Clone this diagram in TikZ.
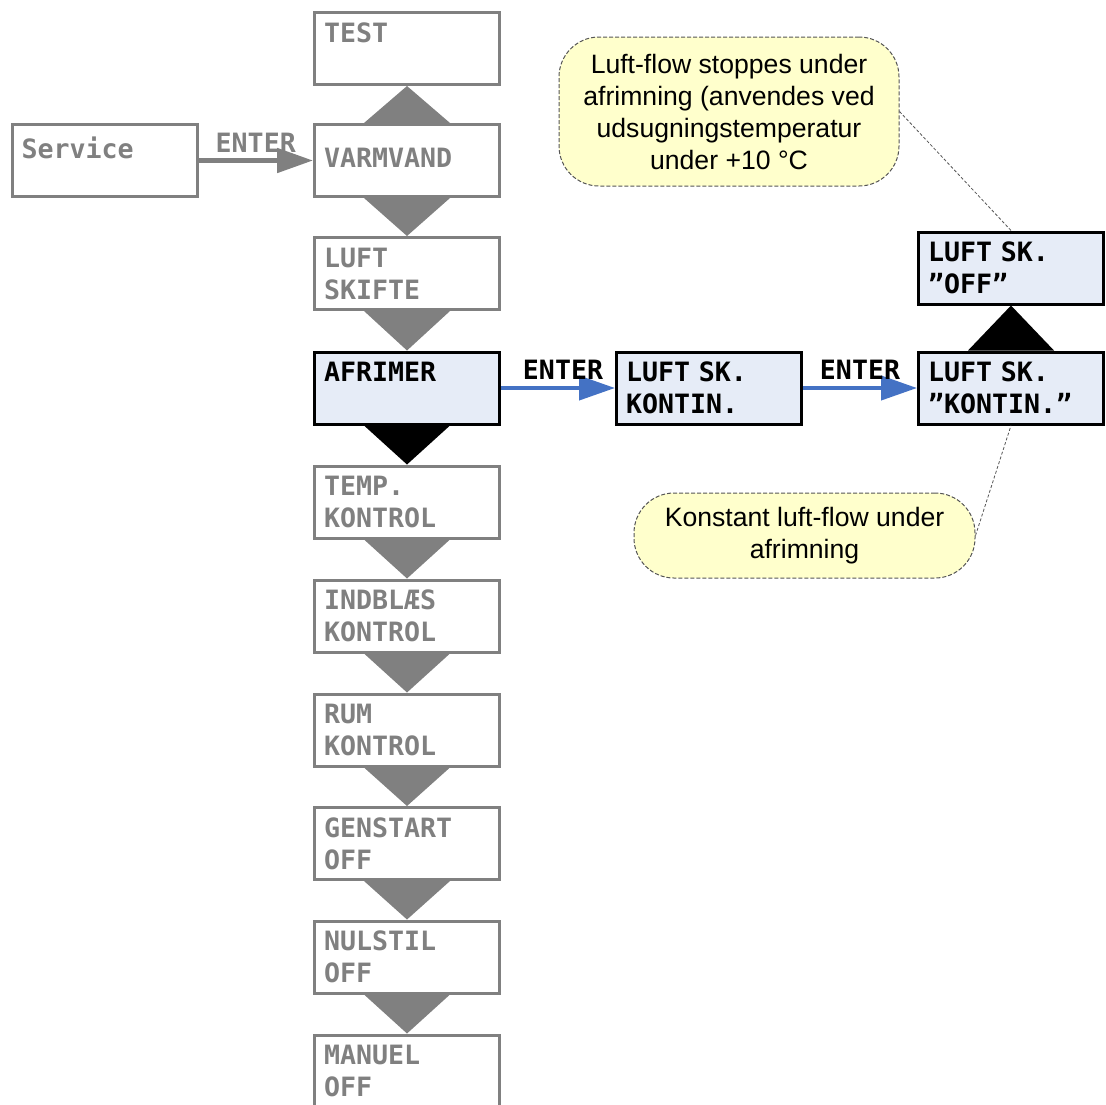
\documentclass[tikz,border=0pt]{standalone}
\usepackage{fontspec}
\setmainfont{Liberation Sans}
\newfontfamily\lcdfont{DejaVu Sans Mono}
\usetikzlibrary{arrows.meta,calc}

\definecolor{menugray}{RGB}{128,128,128}
\definecolor{selfill}{RGB}{230,236,247}
\definecolor{notefill}{RGB}{255,255,204}
\definecolor{notegray}{RGB}{85,85,85}
\definecolor{enterblue}{RGB}{68,114,196}

% lower a one-line display text without changing its reported size
\newcommand{\lowered}[2]{\raisebox{-#1}[\height][\depth]{#2}}

\begin{document}
\begin{tikzpicture}[x=0.5pt,y=-0.5pt,
  lcd/.style={font=\lcdfont\bfseries\fontsize{13.3}{16}\selectfont},
  menubox/.style={lcd, rectangle, draw=menugray, line width=1.5pt, text=menugray,
    minimum width=92.5pt, minimum height=36pt, inner sep=0pt, text width=83pt, align=left},
  activebox/.style={menubox, draw=black, text=black, fill=selfill},
  note/.style={draw=notegray, dash pattern=on 2pt off 1pt, line width=0.5pt, fill=notefill,
    rounded corners=20pt, font=\fontsize{13.3}{16}\selectfont, align=center, inner sep=0pt},
  leader/.style={draw=notegray, line width=0.4pt, dash pattern=on 1.5pt off 1pt},
  grayarrow/.style={draw=menugray, line width=2.5pt, -{Triangle[length=18pt,width=12pt]}},
  bluearrow/.style={draw=enterblue, line width=2pt, -{Triangle[length=18pt,width=12pt]}},
  enterlabel/.style={lcd, anchor=south, inner sep=0pt, yshift=4pt}
]
\useasboundingbox (0,0) rectangle (1106,1104);

% main menu column
\node[menubox] (test)  at (407,48.5)  {TEST\\\mbox{}};
\node[menubox] (varm)  at (407,160.5) {\lowered{6.5pt}{VARMVAND}\\\mbox{}};
\node[menubox] (luft)  at (407,273.5) {LUFT\\SKIFTE};
\node[activebox] (afr) at (407,388)   {AFRIMER\\\mbox{}};
\node[menubox] (temp)  at (407,502)   {TEMP.\\KONTROL};
\node[menubox] (indb)  at (407,616)   {INDBLÆS\\KONTROL};
\node[menubox] (rum)   at (407,730)   {RUM\\KONTROL};
\node[menubox] (gen)   at (407,843.5) {GENSTART\\OFF};
\node[menubox] (nul)   at (407,957)   {NULSTIL\\OFF};
\node[menubox] (man)   at (407,1071)  {MANUEL\\OFF};

% entry box
\node[menubox] (service) at (104.5,160.5) {\lowered{1.5pt}{Service}\\\mbox{}};

% defrost sub-menu
\node[activebox] (kont)  at (709,388)  {LUFT SK.\\KONTIN.};
\node[activebox] (kont2) at (1011,388) {LUFT SK.\\”KONTIN.”};
\node[activebox] (off)   at (1011,268) {LUFT SK.\\”OFF”};

% scroll triangles
\fill[menugray] ($(varm.north)+(-43,0)$) -- ($(varm.north)+(43,0)$) -- (test.south) -- cycle;
\foreach \a/\b in {varm/luft, luft/afr, temp/indb, indb/rum, rum/gen, gen/nul, nul/man}
  \fill[menugray] ($(\a.south)+(-43,0)$) -- ($(\a.south)+(43,0)$) -- (\b.north) -- cycle;
\fill[black] ($(afr.south)+(-43,0)$) -- ($(afr.south)+(43,0)$) -- (temp.north) -- cycle;
\fill[black] ($(kont2.north)+(-43,0)$) -- ($(kont2.north)+(43,0)$) -- (off.south) -- cycle;

% ENTER arrows
\draw[grayarrow] (service.east) -- (varm.west);
\node[enterlabel, text=menugray] (e1) at ($(service.east)!0.5!(varm.west)$) {ENTER};
\draw[bluearrow] (afr.east) -- (kont.west);
\node[enterlabel, xshift=2.5pt] (e2) at ($(afr.east)!0.5!(kont.west)$) {ENTER};
\draw[bluearrow] (kont.east) -- (kont2.west);
\node[enterlabel] (e3) at ($(kont.east)!0.5!(kont2.west)$) {ENTER};

% notes
\node[note, minimum width=170pt, minimum height=74.5pt] (c1) at (729,111.5)
  {Luft-flow stoppes under\\afrimning (anvendes ved\\udsugningstemperatur\\under +10 °C};
\node[note, minimum width=170.5pt, minimum height=42.5pt] (c2) at (804.5,535.5)
  {Konstant luft-flow under\\afrimning};
\draw[leader] (c1.east) -- (off.north);
\draw[leader] (c2.east) -- (kont2.south);
\end{tikzpicture}
\end{document}
